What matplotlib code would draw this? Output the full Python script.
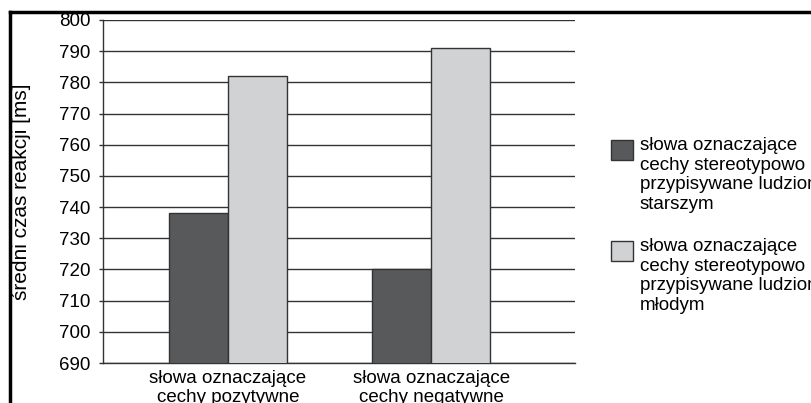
import numpy as np
import matplotlib
matplotlib.use("Agg")
import matplotlib.pyplot as plt
from matplotlib.patches import Rectangle
from matplotlib.lines import Line2D

plt.rcParams["font.family"] = ["Liberation Sans", "DejaVu Sans"]

categories = ["słowa oznaczające\ncechy pozytywne", "słowa oznaczające\ncechy negatywne"]
series_names = [
    "słowa oznaczające\ncechy stereotypowo\nprzypisywane ludziom\nstarszym",
    "słowa oznaczające\ncechy stereotypowo\nprzypisywane ludziom\nmłodym",
]
old_values = [738, 720]
young_values = [782, 791]
yticks = [690, 700, 710, 720, 730, 740, 750, 760, 770, 780, 790, 800]

colors = ["#58595b", "#d1d2d4"]
edge = "#333333"

fig = plt.figure(figsize=(8.12, 4.03), dpi=100)
ax = fig.add_axes([103 / 812, 1 - 363 / 403, (575 - 103) / 812, (363 - 20) / 403])

x = np.arange(len(categories))
w = 0.29
ax.bar(x - w / 2, old_values, w, bottom=0, color=colors[0], edgecolor=edge, linewidth=1, zorder=3)
ax.bar(x + w / 2, young_values, w, bottom=0, color=colors[1], edgecolor=edge, linewidth=1, zorder=3)

ax.set_ylim(690, 800)
ax.set_xlim(-0.616, 1.709)
ax.set_yticks(yticks)
ax.yaxis.grid(True, color="#333333", linewidth=1)
ax.set_axisbelow(True)
ax.set_xticks(x)
ax.set_xticklabels(categories, fontsize=13.5, linespacing=1.15)
ax.tick_params(axis="x", length=0, pad=5)
ax.tick_params(axis="y", length=3, width=1, color="#333333", labelsize=13.5, pad=6)
for s in ["top", "right"]:
    ax.spines[s].set_visible(False)
for s in ["left", "bottom"]:
    ax.spines[s].set_color("#333333")
    ax.spines[s].set_linewidth(1)
ax.set_ylabel("średni czas reakcji [ms]", fontsize=15)
ax.yaxis.set_label_coords(-0.153, 0.5)

# legend drawn by hand (top aligned squares)
leg_tops = [140, 241]
for name, col, top in zip(series_names, colors, leg_tops):
    fig.patches.append(Rectangle((611 / 812, 1 - (top + 20) / 403), 22 / 812, 20 / 403,
                                 transform=fig.transFigure, facecolor=col,
                                 edgecolor=edge, linewidth=1))
    fig.text(640 / 812, 1 - (top - 3) / 403, name, fontsize=13.5, va="top", ha="left",
             linespacing=1.2)

# frame lines of the cropped page
fig.add_artist(Line2D([10 / 812, 1], [1 - 12 / 403, 1 - 12 / 403], color="black",
                      linewidth=2.5, transform=fig.transFigure))
fig.add_artist(Line2D([10 / 812, 10 / 812], [0, 1 - 12 / 403], color="black",
                      linewidth=2.5, transform=fig.transFigure))

fig.savefig("out.png", dpi=100)
